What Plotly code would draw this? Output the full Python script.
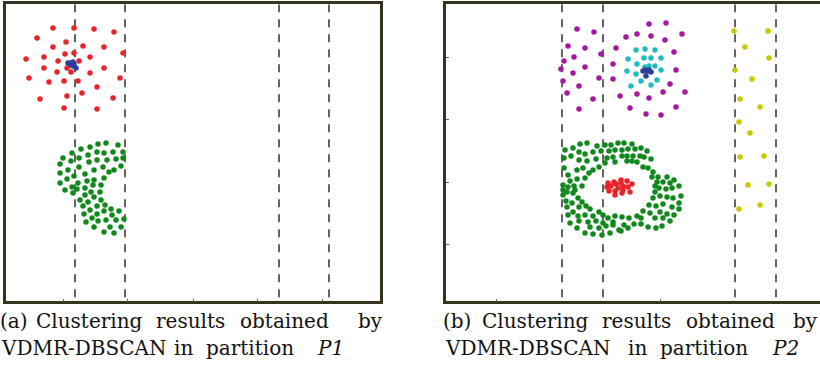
import plotly.graph_objects as go

W, H = 820, 374

# ---------------- data (image-pixel units) ----------------
# Panel (a)
a_red_x = [53, 74, 94, 114, 37, 66, 53, 83, 104, 65, 74, 123, 26, 44, 58, 79, 90, 44, 67, 57, 71, 90, 104, 29, 49, 64, 78, 120, 97, 82, 67, 40, 113, 64, 97]
a_red_y = [28, 28, 29, 32, 38, 42, 47, 46, 47, 54, 53, 53, 59, 57, 61, 61, 57, 68, 68, 72, 72, 73, 68, 78, 82, 81, 81, 78, 87, 93, 96, 99, 98, 108, 109]
a_blue_x = [68, 71, 73, 73, 76, 70, 74]
a_blue_y = [63, 65, 62, 66, 68, 63, 64]
a_green_x = [81, 90, 98, 106, 118, 72, 63, 79, 88, 97, 104, 113, 123, 60, 71, 89, 97, 107, 116, 123, 79, 68, 94, 103, 114, 121, 60, 85, 109, 67, 74, 87, 94, 104, 60, 78, 93, 101, 72, 65, 85, 77, 91, 100, 73, 85, 94, 101, 80, 88, 83, 97, 105, 111, 90, 104, 119, 84, 97, 112, 92, 106, 116, 124, 86, 98, 94, 110, 121, 104, 114]
a_green_y = [149, 147, 144, 143, 145, 153, 158, 158, 155, 152, 153, 152, 152, 164, 161, 162, 160, 160, 159, 158, 167, 170, 170, 167, 170, 166, 173, 174, 172, 179, 176, 181, 180, 178, 183, 183, 185, 185, 187, 190, 188, 189, 192, 192, 193, 195, 197, 200, 200, 202, 206, 206, 205, 209, 210, 211, 211, 214, 214, 215, 218, 220, 220, 219, 222, 221, 227, 227, 227, 232, 233]
a_cuts = [75, 125, 279, 329]
a_ticks = [63, 127, 193, 257, 322]

# Panel (b)
b_mag_x = [577, 594, 568, 585, 601, 564, 574, 561, 585, 573, 563, 599, 579, 567, 593, 579,
           649, 666, 626, 637, 651, 665, 682, 616, 674, 613, 676, 613, 670, 620, 637, 649, 663, 685, 630, 646, 661, 676]
b_mag_y = [29, 32, 46, 48, 54, 61, 57, 69, 67, 73, 81, 78, 86, 93, 99, 109,
           24, 23, 37, 34, 36, 40, 34, 48, 52, 64, 70, 79, 84, 96, 94, 98, 92, 92, 108, 114, 115, 107]
b_cyan_x = [636, 645, 655, 628, 644, 651, 661, 637, 645, 649, 655, 627, 636, 661, 641, 651, 657, 631]
b_cyan_y = [50, 49, 50, 59, 58, 58, 58, 64, 67, 66, 66, 71, 74, 70, 81, 85, 80, 86]
b_blue_x = [643, 647, 651, 646, 645, 649]
b_blue_y = [71, 71, 72, 76, 70, 70]
b_yel_x = [734, 768, 745, 769, 735, 752, 740, 760, 739, 750, 740, 764, 748, 769, 739, 760]
b_yel_y = [31, 31, 47, 58, 70, 79, 99, 107, 122, 133, 157, 156, 185, 184, 209, 205]
b_red_x = [608, 614, 621, 627, 632, 607, 611, 616, 623, 628, 609, 615, 623, 630, 615, 622, 618, 621]
b_red_y = [183, 182, 180, 181, 184, 187, 186, 184, 186, 187, 191, 191, 190, 192, 195, 193, 188, 183]
b_green_x = [580, 587, 597, 605, 611, 618, 565, 573, 579, 585, 593, 601, 609, 615, 564, 571, 579, 587, 596, 607, 613,
             615, 605, 564, 577, 583, 593, 599, 568, 589, 570, 577, 585, 563, 568, 574, 582, 563, 567, 575, 563, 573, 578,
             566, 572, 582, 567, 579, 586, 573, 590, 568, 578, 585, 593, 599, 603, 608, 615, 570, 579, 588, 596, 603, 613,
             577, 590, 599, 606, 613, 619, 585, 593, 602, 610,
             624, 632, 641, 647, 622, 628, 635, 622, 627, 633, 640, 644, 651, 627, 632, 637, 643, 648, 653, 652, 658, 667,
             674, 657, 663, 670, 679, 655, 659, 666, 672, 655, 660, 667, 673, 681, 653, 679, 649, 656, 663, 672, 679, 650,
             643, 660, 667, 674, 637, 641, 655, 663, 670, 622, 629, 624, 628, 634, 641, 648, 656, 662, 621]
b_green_y = [144, 143, 146, 145, 145, 143, 150, 148, 152, 154, 152, 151, 151, 150, 158, 156, 160, 161, 159, 158, 157,
             162, 163, 168, 170, 168, 170, 167, 175, 173, 181, 179, 178, 185, 187, 186, 186, 190, 192, 190, 195, 193, 198,
             201, 203, 202, 207, 207, 206, 212, 209, 215, 216, 215, 216, 212, 215, 218, 216, 223, 221, 222, 221, 223, 222,
             228, 227, 228, 226, 225, 230, 233, 234, 235, 233,
             143, 144, 148, 151, 150, 149, 149, 156, 156, 156, 156, 157, 159, 161, 161, 162, 167, 168, 172, 177, 177, 177,
             180, 182, 182, 183, 186, 186, 188, 189, 188, 192, 196, 197, 198, 196, 198, 203, 205, 206, 204, 207, 209, 213,
             211, 212, 214, 215, 216, 218, 218, 218, 221, 217, 218, 225, 228, 224, 224, 227, 228, 226, 231]
b_cuts = [562, 603, 735, 776]
b_xticks = [496, 660]
b_yticks = [57, 119, 182, 244]

cap_a1 = ["(a)", "Clustering", "results", "obtained", "by"]
cap_a2 = ["VDMR-DBSCAN", "in", "partition", "<i>P1</i>"]
cap_b1 = ["(b)", "Clustering", "results", "obtained", "by"]
cap_b2 = ["VDMR-DBSCAN", "in", "partition", "<i>P2</i>"]

# ---------------- layout geometry (pixels) ----------------
LW = 2.5
frame_top, frame_bot = 3.0, 302.5
a_left, a_right = 4.5, 381.0
b_left = 444.5
top_in, bot_in = frame_top + LW / 2, frame_bot - LW / 2

FRAME = "#38331f"
CUT = "#222222"
MS = 5.5

fig = go.Figure()

def pts(x, y, color, xa, ya):
    fig.add_trace(go.Scatter(x=x, y=y, mode="markers", xaxis=xa, yaxis=ya,
                             marker=dict(size=MS, color=color, line=dict(width=0)),
                             hoverinfo="skip", showlegend=False))

def cuts(vals, xa, ya):
    for v in vals:
        fig.add_trace(go.Scatter(x=[v, v], y=[top_in, bot_in], mode="lines", xaxis=xa, yaxis=ya,
                                 line=dict(color=CUT, width=1.4, dash="8px,7px"),
                                 hoverinfo="skip", showlegend=False))

cuts(a_cuts, "x", "y")
pts(a_red_x, a_red_y, "#e8232a", "x", "y")
pts(a_green_x, a_green_y, "#10891c", "x", "y")
pts(a_blue_x, a_blue_y, "#2c3e9c", "x", "y")

cuts(b_cuts, "x2", "y2")
pts(b_mag_x, b_mag_y, "#a4179e", "x2", "y2")
pts(b_cyan_x, b_cyan_y, "#22bcc0", "x2", "y2")
pts(b_blue_x, b_blue_y, "#2c3e9c", "x2", "y2")
pts(b_yel_x, b_yel_y, "#c6c800", "x2", "y2")
pts(b_green_x, b_green_y, "#10891c", "x2", "y2")
pts(b_red_x, b_red_y, "#e8232a", "x2", "y2")

ax_common = dict(showgrid=False, zeroline=False, showticklabels=False, showline=True,
                 linecolor=FRAME, linewidth=LW, ticks="inside", ticklen=3,
                 tickcolor="#666666", tickwidth=1)

a_dl, a_dr = a_left + LW / 2, a_right - LW / 2
b_dl = b_left + LW / 2

fig.update_layout(
    width=W, height=H, margin=dict(l=0, r=0, t=0, b=0),
    paper_bgcolor="white", plot_bgcolor="white",
    xaxis=dict(**ax_common, domain=[a_dl / W, a_dr / W], range=[a_dl, a_dr],
               tickvals=a_ticks, mirror=True, anchor="y"),
    yaxis=dict(**{**ax_common, "ticks": ""}, domain=[1 - bot_in / H, 1 - top_in / H],
               range=[bot_in, top_in], mirror=True, anchor="x"),
    xaxis2=dict(**ax_common, domain=[b_dl / W, 1.0], range=[b_dl, W],
                tickvals=b_xticks, mirror=True, anchor="y2"),
    yaxis2=dict(**ax_common, domain=[1 - bot_in / H, 1 - top_in / H],
                range=[bot_in, top_in], tickvals=b_yticks, mirror=False, anchor="x2"),
)

FONT = dict(family="DejaVu Serif", size=20, color="#111111")

def caption(words, centers, py):
    for w, cx in zip(words, centers):
        fig.add_annotation(text=w, x=cx / W, y=1 - py / H, xref="paper", yref="paper",
                           xanchor="center", yanchor="middle", showarrow=False, font=FONT)

caption(cap_a1, [14, 89, 190, 284, 370], 321)
caption(cap_a2, [83, 183, 250, 330], 348)
caption(cap_b1, [457, 535, 636, 730, 805], 321)
caption(cap_b2, [527, 637, 704, 785], 348)

fig.write_html("out.html")
